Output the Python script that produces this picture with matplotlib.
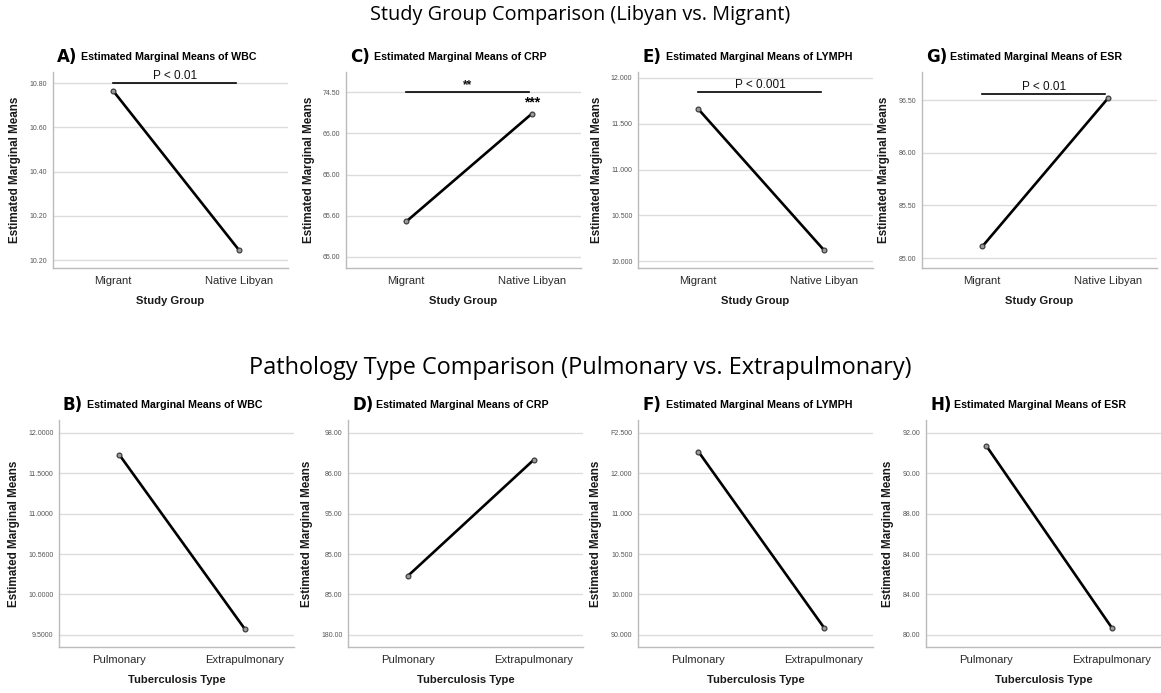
import matplotlib
matplotlib.use('Agg')
import matplotlib.pyplot as plt
from matplotlib import font_manager

group_cats = ['Migrant', 'Native Libyan']
tb_cats = ['Pulmonary', 'Extrapulmonary']

# estimated marginal means, study group (top row)
wbc_group = [10.764, 10.045]
crp_group = [65.43, 66.74]
lymph_group = [11.66, 10.12]
esr_group = [85.11, 86.52]

# estimated marginal means, tuberculosis type (bottom row)
wbc_tb = [11.73, 9.57]
crp_tb = [82.94, 88.68]
lymph_tb = [12.27, 10.09]
esr_tb = [91.36, 82.34]

# y tick values and the labels as printed on the chart
wbc_group_ticks = [10.0, 10.2, 10.4, 10.6, 10.8]
wbc_group_labels = ['10.20', '10.20', '10.40', '10.60', '10.80']
crp_group_ticks = [65.0, 65.5, 66.0, 66.5, 67.0]
crp_group_labels = ['65.00', '65.60', '65.00', '66.00', '74.50']
lymph_group_ticks = [10.0, 10.5, 11.0, 11.5, 12.0]
lymph_group_labels = ['10.000', '10.500', '11.000', '11.500', '12.000']
esr_group_ticks = [85.0, 85.5, 86.0, 86.5]
esr_group_labels = ['85.00', '85.50', '86.00', '96.50']

wbc_tb_ticks = [9.5, 10.0, 10.5, 11.0, 11.5, 12.0]
wbc_tb_labels = ['9.5000', '10.0000', '10.5600', '11.0000', '11.5000', '12.0000']
crp_tb_ticks = [80, 82, 84, 86, 88, 90]
crp_tb_labels = ['180.00', '85.00', '85.00', '95.00', '86.00', '98.00']
lymph_tb_ticks = [10.0, 10.5, 11.0, 11.5, 12.0, 12.5]
lymph_tb_labels = ['90.000', '10.000', '10.500', '11.000', '12.000', 'F2.500']
esr_tb_ticks = [82, 84, 86, 88, 90, 92]
esr_tb_labels = ['80.00', '84.00', '84.00', '88.00', '90.00', '92.00']

# significance annotations: (bar height, text)
wbc_group_sig = (10.80, 'P < 0.01')
crp_group_sig = (67.0, '**')
lymph_group_sig = (11.85, 'P < 0.001')
esr_group_sig = (86.56, 'P < 0.01')

installed = {f.name for f in font_manager.fontManager.ttflist}
if 'Liberation Sans Narrow' in installed:
    narrow = ['Liberation Sans Narrow', 'DejaVu Sans']
    k = 1.0
else:
    narrow = ['Liberation Sans', 'DejaVu Sans']
    k = 0.85
plt.rcParams['font.family'] = narrow

fig = plt.figure(figsize=(11.61, 6.93), dpi=100)
W, H = 1161, 693

top_panels = [
    ('A)', 'WBC', wbc_group, wbc_group_ticks, wbc_group_labels, (9.964, 10.85), wbc_group_sig, 53),
    ('C)', 'CRP', crp_group, crp_group_ticks, crp_group_labels, (64.865, 67.245), crp_group_sig, 346),
    ('E)', 'LYMPH', lymph_group, lymph_group_ticks, lymph_group_labels, (9.925, 12.065), lymph_group_sig, 638),
    ('G)', 'ESR', esr_group, esr_group_ticks, esr_group_labels, (84.905, 86.77), esr_group_sig, 922),
]
bottom_panels = [
    ('B)', 'WBC', wbc_tb, wbc_tb_ticks, wbc_tb_labels, (9.35, 12.16), None, 59),
    ('D)', 'CRP', crp_tb, crp_tb_ticks, crp_tb_labels, (79.4, 90.64), None, 348),
    ('F)', 'LYMPH', lymph_tb, lymph_tb_ticks, lymph_tb_labels, (9.85, 12.66), None, 638),
    ('H)', 'ESR', esr_tb, esr_tb_ticks, esr_tb_labels, (81.4, 92.64), None, 926),
]


def draw(panel, cats, xlabel, top_px, bottom_px):
    letter, measure, vals, ticks, labels, ylim, sig, left_px = panel
    ax = fig.add_axes([left_px / W, 1 - bottom_px / H, 235 / W, (bottom_px - top_px) / H])
    ax.plot([0, 1], vals, color='black', lw=1.9, marker='o', ms=3.5,
            mfc='#9a9a9a', mec='#333333', mew=0.8, zorder=3)
    ax.set_xlim(-0.48, 1.39)
    ax.set_ylim(*ylim)
    ax.set_xticks([0, 1])
    ax.set_xticklabels(cats, fontsize=9.5 * k, color='#2a2a2a')
    ax.set_yticks(ticks)
    ax.set_yticklabels(labels, fontsize=5, color='#555555')
    ax.tick_params(length=0, pad=4)
    ax.tick_params(axis='x', pad=6)
    ax.grid(axis='y', color='#dcdcdc', lw=1)
    ax.set_axisbelow(True)
    for s in ['top', 'right']:
        ax.spines[s].set_visible(False)
    for s in ['left', 'bottom']:
        ax.spines[s].set_color('#bbbbbb')
        ax.spines[s].set_linewidth(1)
    ax.set_xlabel(xlabel, fontsize=9.5 * k, fontweight='bold', color='#1a1a1a', labelpad=7)
    ax.set_ylabel('Estimated Marginal Means', fontsize=9.8 * k, fontweight='bold',
                  color='#1a1a1a', labelpad=6)
    ax.annotate(letter, xy=(0, 1), xycoords='axes fraction', xytext=(4, 15),
                textcoords='offset pixels', fontsize=12, fontweight='bold',
                family=['DejaVu Sans'], va='center', ha='left')
    ax.annotate('Estimated Marginal Means of ' + measure, xy=(0, 1),
                xycoords='axes fraction', xytext=(28, 15), textcoords='offset pixels',
                fontsize=9 * k, fontweight='bold', va='center', ha='left')
    if sig is not None:
        y, txt = sig
        ax.plot([0, 0.98], [y, y], color='black', lw=1.2, zorder=2)
        ax.annotate(txt, xy=(0.49, y), xytext=(0, 1), textcoords='offset pixels',
                    ha='center', va='bottom', fontsize=8.5,
                    fontweight='bold' if txt == '**' else 'normal', color='#111111')
    return ax


for p in top_panels:
    ax = draw(p, group_cats, 'Study Group', 72, 268)
    if p[0] == 'C)':
        ax.annotate('***', xy=(1, p[2][1]), xytext=(0, 4), textcoords='offset pixels',
                    ha='center', va='bottom', fontsize=10, fontweight='bold')

for p in bottom_panels:
    draw(p, tb_cats, 'Tuberculosis Type', 420, 647)

fig.text(0.5, 1 - 15 / H, 'Study Group Comparison (Libyan vs. Migrant)',
         ha='center', va='center', fontsize=14.3, family=['Open Sans', 'DejaVu Sans'])
fig.text(0.5, 1 - 368 / H, 'Pathology Type Comparison (Pulmonary vs. Extrapulmonary)',
         ha='center', va='center', fontsize=16.9, family=['Open Sans', 'DejaVu Sans'])

fig.savefig('out.png', dpi=100, facecolor='white')
